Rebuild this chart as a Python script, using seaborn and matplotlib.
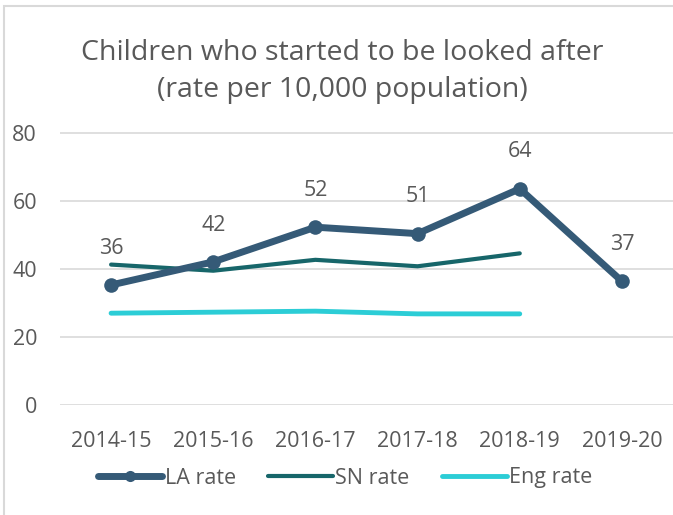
import matplotlib
matplotlib.use("Agg")
import matplotlib.pyplot as plt
import seaborn as sns
import pandas as pd
import numpy as np
from matplotlib.patches import Rectangle

years = ["2014-15", "2015-16", "2016-17", "2017-18", "2018-19", "2019-20"]
la_rate = [35.3, 42.1, 52.3, 50.4, 63.6, 36.4]
la_labels = ["36", "42", "52", "51", "64", "37"]
sn_rate = [41.3, 39.5, 42.7, 40.8, 44.6, np.nan]
eng_rate = [27.0, 27.3, 27.6, 26.8, 26.8, np.nan]
series_names = ["LA rate", "SN rate", "Eng rate"]
yticks = [0, 20, 40, 60, 80]

colors = {"LA rate": "#355A77", "SN rate": "#17666A", "Eng rate": "#2CCDD6"}
text_col = "#595959"

sns.set_theme(style="white")
plt.rcParams["font.family"] = ["Open Sans", "DejaVu Sans"]

df = pd.DataFrame({"year": years, "LA rate": la_rate, "SN rate": sn_rate, "Eng rate": eng_rate})
x = np.arange(len(years))

W, H = 673, 515
fig = plt.figure(figsize=(6.73, 5.15), dpi=100)
ax_left, ax_right, ax_bottom = 60, 673, 405
ax_top = ax_bottom - 82 * 3.4
ax = fig.add_axes([ax_left / W, 1 - ax_bottom / H, (ax_right - ax_left) / W, (ax_bottom - ax_top) / H])

# outer chart border
fig.patches.append(Rectangle((4 / W, -0.1), 1.2, 1 - 6 / H + 0.1, transform=fig.transFigure,
                             fill=False, edgecolor="#D9D9D9", linewidth=1.5))

sns.lineplot(x=x, y=df["Eng rate"], ax=ax, color=colors["Eng rate"], linewidth=3.5,
             solid_capstyle="round", label="Eng rate", legend=False)
sns.lineplot(x=x, y=df["SN rate"], ax=ax, color=colors["SN rate"], linewidth=3,
             solid_capstyle="round", label="SN rate", legend=False)
sns.lineplot(x=x, y=df["LA rate"], ax=ax, color=colors["LA rate"], linewidth=5,
             marker="o", markersize=10.5, markeredgewidth=0, solid_capstyle="round",
             label="LA rate", legend=False)

for xi, v, lab in zip(x, df["LA rate"], la_labels):
    ax.annotate(lab, (xi, v), xytext=(0, 26.5), textcoords="offset points",
                ha="center", va="center", fontsize=15.5, color=text_col)

ax.set_xlim(-0.5, 5.5)
ax.set_ylim(0, 82)
ax.set_yticks(yticks)
ax.set_xticks(x)
ax.set_xticklabels(years)
ax.yaxis.grid(True, color="#D9D9D9", linewidth=1.2)
ax.set_axisbelow(True)
for s in ax.spines.values():
    s.set_visible(False)
ax.tick_params(axis="both", length=0, labelsize=15.5, colors=text_col)
ax.tick_params(axis="y", pad=16.5)
ax.tick_params(axis="x", pad=19)
ax.set_xlabel("")
ax.set_ylabel("")

fig.text(342 / W, 1 - 60 / H, "Children who started to be looked after",
         ha="center", va="baseline", fontsize=20.5, color=text_col)
fig.text(342 / W, 1 - 97 / H, "(rate per 10,000 population)",
         ha="center", va="baseline", fontsize=20.5, color=text_col)

handles, labels = ax.get_legend_handles_labels()
order = [labels.index(n) for n in series_names]
leg = fig.legend([handles[i] for i in order], [labels[i] for i in order],
                 loc="center", bbox_to_anchor=(345 / W, 1 - 478 / H), ncol=3, frameon=False,
                 fontsize=15.5, handlelength=3.0, handletextpad=0.12, columnspacing=1.5,
                 labelcolor=text_col)
for h in leg.legend_handles:
    h.set_markersize(8)

fig.savefig("out.png", dpi=100)
